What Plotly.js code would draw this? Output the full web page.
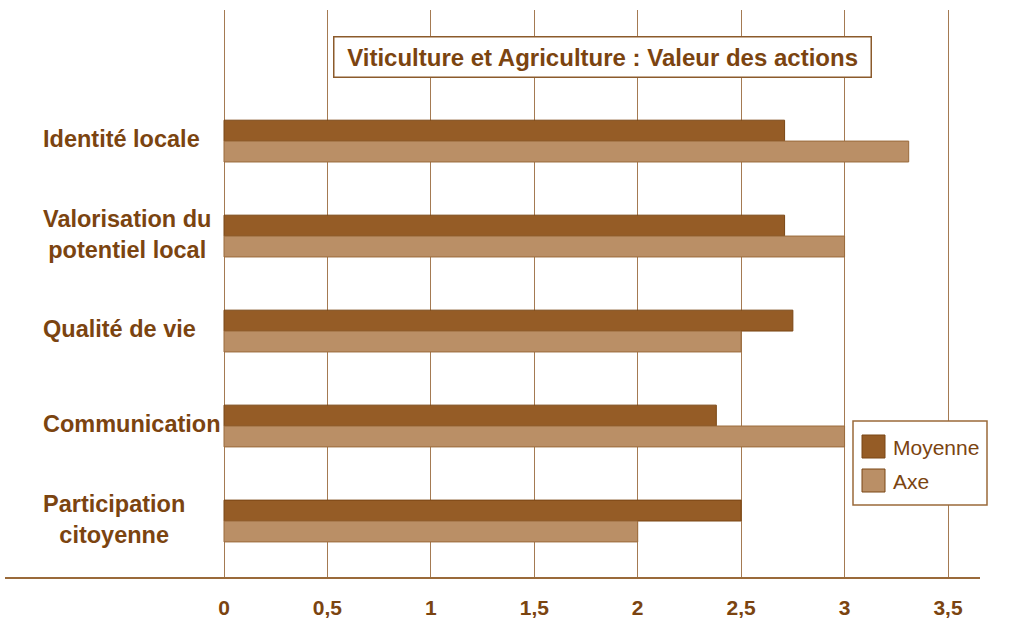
<!DOCTYPE html>
<html>
<head>
<meta charset="utf-8">
<script src="https://cdn.plot.ly/plotly-3.0.1.min.js"></script>
<style>html,body{margin:0;padding:0;background:#fff;}#chart{width:1010px;height:620px;}</style>
</head>
<body>
<div id="chart"></div>
<script>
const categories = ["Identité locale", "Valorisation du<br>potentiel local", "Qualité de vie", "Communication", "Participation<br>citoyenne"];
const moyenne = [2.71, 2.71, 2.75, 2.38, 2.5];
const axe = [3.31, 3.0, 2.5, 3.0, 2.0];
const seriesNames = ["Moyenne", "Axe"];
const xTicks = [0, 0.5, 1, 1.5, 2, 2.5, 3, 3.5];
const chartTitle = "Viticulture et Agriculture : Valeur des actions";

const cDark = "#955c26", cLight = "#ba8f66", txt = "#7b4410";
const font = "Liberation Sans, Arial, sans-serif";

const traces = [
  {type: "bar", orientation: "h", name: seriesNames[0], y: categories, x: moyenne,
   marker: {color: cDark, line: {color: "#7a4614", width: 1}}, showlegend: false, hoverinfo: "x"},
  {type: "bar", orientation: "h", name: seriesNames[1], y: categories, x: axe,
   marker: {color: cLight, line: {color: "#9a6a3a", width: 1}}, showlegend: false, hoverinfo: "x"}
];

const L = 221, R = 956;            // plot area pixel edges
const W = R - L;
const unit = 724 / 3.5;             // pixels per unit
const px = v => (v - L) / W, py = v => (578 - v) / 568;

const annotations = categories.map(c => ({
  xref: "paper", yref: "y", x: px(41), y: c, xanchor: "left", yanchor: "middle",
  align: "center", text: c, showarrow: false, yshift: 2,
  font: {family: font, size: 23.5, color: txt, weight: "bold"}
}));
annotations.push({
  xref: "paper", yref: "paper", x: px(602), y: py(57), xanchor: "center", yanchor: "middle",
  text: "<b>&nbsp;" + chartTitle + "&nbsp;</b>", showarrow: false, bgcolor: "#ffffff",
  bordercolor: "#8b5a2b", borderwidth: 1.5, borderpad: 6,
  font: {family: font, size: 24, color: txt}
});
[[447, 0], [481, 1]].forEach(([y, i]) => {
  annotations.push({xref: "paper", yref: "paper", x: px(891), y: py(y),
    xanchor: "left", yanchor: "middle", text: seriesNames[i], showarrow: false,
    font: {family: font, size: 21, color: txt}});
});

const shapes = [
  {type: "line", xref: "paper", yref: "paper", x0: px(5), x1: px(980), y0: 0, y1: 0,
   line: {color: "#9a6a3a", width: 2}},
  {type: "rect", xref: "paper", yref: "paper", x0: px(853), x1: px(987), y0: py(505), y1: py(421),
   fillcolor: "#ffffff", line: {color: "#9a6a3a", width: 1.5}},
  {type: "rect", xref: "paper", yref: "paper", x0: px(862), x1: px(885), y0: py(458), y1: py(435),
   fillcolor: cDark, line: {color: "#7a4614", width: 1}},
  {type: "rect", xref: "paper", yref: "paper", x0: px(862), x1: px(885), y0: py(492), y1: py(469),
   fillcolor: cLight, line: {color: "#7a4614", width: 1}}
];

const layout = {
  width: 1010, height: 620,
  margin: {l: L, r: 1010 - R, t: 10, b: 42},
  paper_bgcolor: "#ffffff", plot_bgcolor: "#ffffff",
  separators: ", ",
  barmode: "group", bargap: 0.56, bargroupgap: 0,
  showlegend: false,
  xaxis: {range: [-(224 - L) / unit, (R - 224) / unit], tickvals: xTicks, showgrid: true,
    gridcolor: "#a47a52", gridwidth: 1,
    zeroline: false, showline: false, ticks: "", ticklabelstandoff: 15,
    tickfont: {family: font, size: 21, color: txt, weight: "bold"},
    fixedrange: true},
  yaxis: {type: "category", categoryorder: "array", categoryarray: categories,
    range: [4.6, -1.38], showgrid: false, zeroline: false, showline: false,
    showticklabels: false, ticks: "", fixedrange: true},
  annotations: annotations,
  shapes: shapes
};

Plotly.newPlot("chart", traces, layout, {displayModeBar: false, staticPlot: true});
</script>
</body>
</html>
